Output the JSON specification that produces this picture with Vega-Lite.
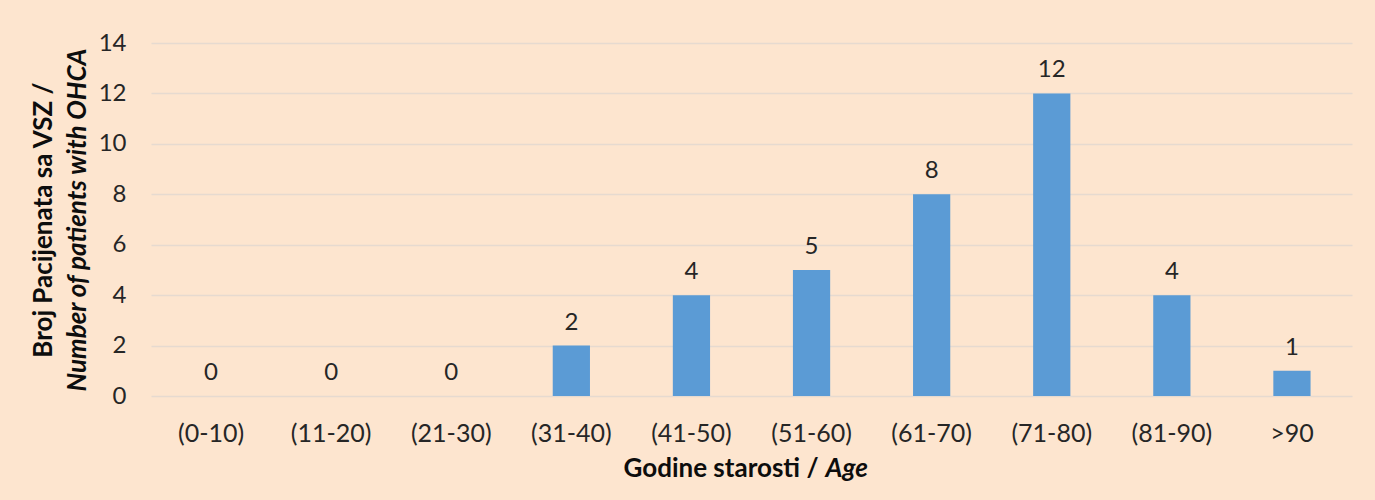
{
  "$schema": "https://vega.github.io/schema/vega-lite/v6.json",
  "width": 1201,
  "height": 353,
  "autosize": {"type": "none"},
  "padding": {"left": 151, "top": 43, "right": 23, "bottom": 104},
  "background": "#FDE5CF",
  "config": {"view": {"stroke": null}, "font": "Lato"},
  "data": {
    "values": [
      {"age": "(0-10)", "n": 0},
      {"age": "(11-20)", "n": 0},
      {"age": "(21-30)", "n": 0},
      {"age": "(31-40)", "n": 2},
      {"age": "(41-50)", "n": 4},
      {"age": "(51-60)", "n": 5},
      {"age": "(61-70)", "n": 8},
      {"age": "(71-80)", "n": 12},
      {"age": "(81-90)", "n": 4},
      {"age": ">90", "n": 1}
    ]
  },
  "layer": [
    {
      "mark": {"type": "bar", "color": "#5B9BD5"},
      "encoding": {
        "x": {
          "field": "age", "type": "nominal", "sort": null,
          "scale": {"paddingInner": 0.69, "paddingOuter": 0.345},
          "axis": {
            "orient": "bottom", "labelAngle": 0, "domain": false, "ticks": false,
            "labelPadding": 25, "labelFontSize": 25, "labelColor": "#262626",
            "title": "Godine starosti /", "titleFontWeight": "bold", "titleFontSize": 26,
            "titleColor": "#0D0D0D", "titleAlign": "right", "titleX": 667, "titleY": 72,
            "titleBaseline": "middle"
          }
        },
        "y": {
          "field": "n", "type": "quantitative",
          "scale": {"domain": [0, 14]},
          "axis": {
            "orient": "left", "values": [0, 2, 4, 6, 8, 10, 12, 14],
            "grid": true, "gridColor": "#E6DAD0", "gridWidth": 1.5,
            "domain": false, "ticks": false, "labelPadding": 25, "labelFontSize": 24,
            "labelColor": "#262626",
            "title": "Broj Pacijenata sa VSZ /", "titleFontWeight": "bold", "titleFontSize": 26,
            "titleColor": "#0D0D0D", "titleX": -108, "titleBaseline": "middle"
          }
        }
      }
    },
    {
      "mark": {"type": "text", "fontSize": 24, "dy": -23, "color": "#262626"},
      "encoding": {
        "x": {
          "field": "age", "type": "nominal", "sort": null,
          "scale": {"paddingInner": 0.69, "paddingOuter": 0.345},
          "axis": {
            "orient": "bottom", "labels": false, "domain": false, "ticks": false, "grid": false,
            "title": "Age", "titleFontWeight": "bold", "titleFontStyle": "italic", "titleFontSize": 26,
            "titleColor": "#0D0D0D", "titleAlign": "left", "titleX": 674, "titleY": 72,
            "titleBaseline": "middle"
          }
        },
        "y": {
          "field": "n", "type": "quantitative",
          "scale": {"domain": [0, 14]},
          "axis": {
            "orient": "left", "labels": false, "domain": false, "ticks": false, "grid": false,
            "title": "Number of patients with OHCA", "titleFontWeight": "bold", "titleFontStyle": "italic",
            "titleFontSize": 26, "titleColor": "#0D0D0D", "titleX": -74, "titleBaseline": "middle"
          }
        },
        "text": {"field": "n", "type": "quantitative"}
      }
    }
  ],
  "resolve": {"axis": {"x": "independent", "y": "independent"}}
}
